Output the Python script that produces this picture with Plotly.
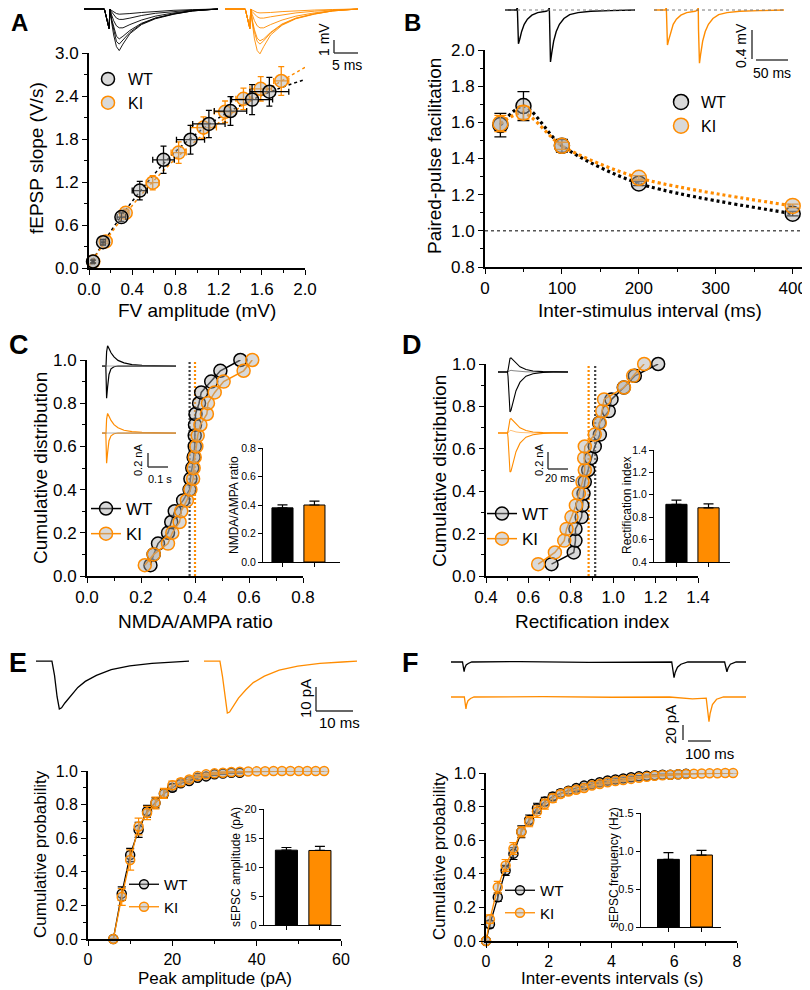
import plotly.graph_objects as go

# ---------------- data ----------------
# A: input/output (fEPSP slope vs fibre volley)
a_wt_fv = [0.037, 0.13, 0.30, 0.47, 0.69, 0.94, 1.11, 1.31, 1.51, 1.67]
a_wt_slope = [0.09, 0.36, 0.71, 1.08, 1.51, 1.79, 2.01, 2.19, 2.35, 2.46]
a_wt_fv_err = [0.01, 0.02, 0.04, 0.07, 0.10, 0.13, 0.15, 0.15, 0.19, 0.18]
a_wt_slope_err = [0.02, 0.04, 0.06, 0.13, 0.19, 0.20, 0.19, 0.20, 0.21, 0.20]
a_ki_fv = [0.04, 0.155, 0.34, 0.59, 0.83, 1.06, 1.26, 1.43, 1.59, 1.78]
a_ki_slope = [0.09, 0.37, 0.77, 1.19, 1.61, 1.96, 2.18, 2.36, 2.50, 2.61]
a_ki_fv_err = [0.01, 0.02, 0.03, 0.06, 0.07, 0.12, 0.10, 0.07, 0.10, 0.07]
a_ki_slope_err = [0.02, 0.03, 0.05, 0.10, 0.15, 0.15, 0.15, 0.15, 0.17, 0.20]
a_fit_fv = [0, 0.25, 0.5, 0.75, 1.0, 1.25, 1.5, 1.75, 2.0]
a_wt_fit = [0.03, 0.62, 1.12, 1.55, 1.88, 2.14, 2.34, 2.50, 2.63]
a_ki_fit = [0.03, 0.58, 1.05, 1.45, 1.79, 2.08, 2.35, 2.58, 2.80]

# A example sweeps (ms, mV)
a_trace_t = [-5.4, -1.0, 0.0, 0.2, 0.5, 1.0, 1.6, 2.2, 3.0, 4.5, 7.0, 10.0, 14.0, 18.0, 23.5]
a_wt_sweeps = [
    [0, 0, -1.5, 0, -0.9, -2.0, -2.9, -3.2, -2.7, -1.9, -1.2, -0.75, -0.4, -0.15, 0],
    [0, 0, -1.5, 0, -0.8, -1.7, -2.5, -2.7, -2.4, -1.8, -1.15, -0.7, -0.38, -0.15, 0],
    [0, 0, -1.5, 0, -0.7, -1.4, -2.1, -2.3, -2.1, -1.65, -1.1, -0.7, -0.36, -0.14, 0],
    [0, 0, -1.5, 0, -0.4, -0.9, -1.3, -1.45, -1.45, -1.2, -0.85, -0.55, -0.3, -0.12, 0],
    [0, 0, -1.5, 0, -0.2, -0.45, -0.7, -0.8, -0.8, -0.7, -0.5, -0.33, -0.18, -0.08, 0],
    [0, 0, -1.5, 0, -0.1, -0.2, -0.35, -0.4, -0.4, -0.35, -0.27, -0.18, -0.1, -0.05, 0],
]
a_ki_sweeps = [
    [0, 0, -1.5, 0, -1.0, -2.3, -3.2, -3.45, -2.9, -2.0, -1.25, -0.75, -0.4, -0.15, 0],
    [0, 0, -1.5, 0, -0.9, -1.8, -2.5, -2.7, -2.45, -1.85, -1.2, -0.72, -0.38, -0.15, 0],
    [0, 0, -1.5, 0, -0.8, -1.6, -2.25, -2.45, -2.3, -1.8, -1.15, -0.7, -0.37, -0.14, 0],
    [0, 0, -1.5, 0, -0.4, -0.9, -1.3, -1.45, -1.45, -1.2, -0.85, -0.55, -0.3, -0.12, 0],
    [0, 0, -1.5, 0, -0.2, -0.4, -0.6, -0.7, -0.7, -0.6, -0.45, -0.3, -0.17, -0.07, 0],
    [0, 0, -1.5, 0, -0.08, -0.18, -0.27, -0.3, -0.3, -0.27, -0.2, -0.14, -0.08, -0.04, 0],
]

# B: paired-pulse facilitation
b_isi = [20, 50, 100, 200, 400]
b_wt = [1.585, 1.69, 1.47, 1.262, 1.095]
b_wt_err = [0.065, 0.08, 0.035, 0.012, 0.012]
b_ki = [1.594, 1.653, 1.47, 1.293, 1.138]
b_ki_err = [0.045, 0.035, 0.02, 0.012, 0.01]
b_trace_t = [-19, -0.5, 0, 0.5, 2, 4, 7, 11, 16, 23, 32, 45, 49.5, 50, 50.5, 52, 54, 57, 61, 66,
             73, 82, 95, 115, 145, 184]
b_wt_sweep = [0, 0, 0.12, -0.2, -0.52, -0.45, -0.33, -0.22, -0.14, -0.08, -0.04, -0.02, 0, 0.12,
              -0.3, -0.8, -0.66, -0.48, -0.33, -0.22, -0.13, -0.07, -0.04, -0.02, -0.01, 0]
b_ki_sweep = [0, 0, 0.12, -0.2, -0.54, -0.46, -0.34, -0.22, -0.14, -0.08, -0.04, -0.02, 0, 0.12,
              -0.3, -0.82, -0.67, -0.48, -0.33, -0.22, -0.13, -0.07, -0.04, -0.02, -0.01, 0]

# C: NMDA/AMPA ratio cumulative distribution
c_cum = [0.05, 0.10, 0.15, 0.20, 0.25, 0.30, 0.35, 0.40, 0.45, 0.50,
         0.55, 0.60, 0.65, 0.70, 0.75, 0.80, 0.85, 0.90, 0.95, 1.00]
c_wt_ratio = [0.235, 0.247, 0.263, 0.30, 0.312, 0.325, 0.356, 0.38, 0.383, 0.39,
              0.395, 0.399, 0.399, 0.40, 0.402, 0.415, 0.423, 0.46, 0.494, 0.568]
c_ki_ratio = [0.214, 0.247, 0.30, 0.316, 0.343, 0.349, 0.37, 0.383, 0.393, 0.395,
              0.399, 0.405, 0.41, 0.42, 0.444, 0.448, 0.473, 0.506, 0.58, 0.612]
c_bar_mean = [0.38, 0.40]
c_bar_err = [0.021, 0.027]
c_trace_t = [-20, -1, 0, 3, 8, 15, 25, 40, 60, 90, 130, 180, 250, 350]
c_wt_nmda = [0, 0, 0, 0.2, 0.29, 0.25, 0.19, 0.13, 0.08, 0.045, 0.02, 0.01, 0.005, 0]
c_wt_ampa = [0, 0, -0.1, -0.46, -0.3, -0.12, -0.04, -0.01, 0, 0, 0, 0, 0, 0]
c_ki_nmda = [0, 0, 0, 0.2, 0.28, 0.24, 0.18, 0.12, 0.075, 0.04, 0.02, 0.01, 0.005, 0]
c_ki_ampa = [0, 0, -0.1, -0.43, -0.28, -0.11, -0.04, -0.01, 0, 0, 0, 0, 0, 0]

# D: rectification index cumulative distribution
d_cum = [0.056, 0.111, 0.167, 0.222, 0.278, 0.333, 0.389, 0.444, 0.5,
         0.556, 0.611, 0.667, 0.722, 0.778, 0.833, 0.889, 0.944, 1.0]
d_wt_ri = [0.709, 0.814, 0.822, 0.822, 0.851, 0.854, 0.86, 0.866, 0.882,
           0.895, 0.913, 0.937, 0.934, 0.979, 0.992, 1.05, 1.102, 1.212]
d_ki_ri = [0.646, 0.725, 0.769, 0.78, 0.803, 0.824, 0.838, 0.855, 0.866,
           0.863, 0.866, 0.913, 0.937, 0.948, 0.957, 1.051, 1.094, 1.146]
d_bar_mean = [0.915, 0.884]
d_bar_err = [0.038, 0.035]
d_trace_t = [-10, -0.5, 0, 1, 2, 3, 5, 8, 12, 18, 25, 35, 45, 60]
d_wt_pos = [0, 0, 0.02, 0.1, 0.16, 0.165, 0.14, 0.1, 0.06, 0.03, 0.012, 0.004, 0.001, 0]
d_wt_neg = [0, 0, -0.05, -0.3, -0.47, -0.45, -0.35, -0.22, -0.12, -0.05, -0.02, -0.005, 0, 0]
d_wt_zero = [0, 0, 0, 0.01, 0.02, 0.02, 0.015, 0.01, 0.005, 0.002, 0, 0, 0, 0]
d_ki_pos = [0, 0, 0.02, 0.1, 0.16, 0.17, 0.145, 0.1, 0.06, 0.03, 0.012, 0.004, 0.001, 0]
d_ki_neg = [0, 0, -0.05, -0.3, -0.46, -0.45, -0.35, -0.22, -0.12, -0.05, -0.02, -0.005, 0, 0]
d_ki_zero = [0, 0, 0, 0.015, 0.03, 0.03, 0.02, 0.012, 0.006, 0.002, 0, 0, 0, 0]

# E: sEPSC amplitude
e_amp_wt = [6, 8, 10, 12, 14, 16, 18, 20, 22, 24, 26, 28, 30, 32, 34, 36]
e_cum_wt = [0, 0.27, 0.50, 0.65, 0.76, 0.81, 0.865, 0.90, 0.927, 0.94, 0.96, 0.968, 0.98, 0.985, 0.99, 0.99]
e_err_wt = [0, 0.04, 0.04, 0.045, 0.035, 0.03, 0.025, 0.02, 0.015, 0.01, 0.01, 0.008, 0.006, 0.005, 0.004, 0.003]
e_amp_ki = [6, 8, 10, 12, 14, 16, 18, 20, 22, 24, 26, 28, 30, 32, 34, 36, 38, 40, 42, 44, 46, 48, 50, 52, 54, 56]
e_cum_ki = [0, 0.25, 0.47, 0.67, 0.75, 0.81, 0.867, 0.915, 0.933, 0.95, 0.97, 0.98, 0.986, 0.99, 0.994,
            0.996, 0.997, 0.998, 0.999, 1.0, 1.0, 1.0, 1.0, 1.0, 1.0, 1.0]
e_err_ki = [0, 0.05, 0.06, 0.05, 0.04, 0.035, 0.03, 0.025, 0.02, 0.015, 0.01, 0.008, 0.006, 0.005, 0.004,
            0.003, 0.002, 0.002, 0.001, 0, 0, 0, 0, 0, 0, 0]
e_bar_mean = [12.9, 12.85]
e_bar_err = [0.46, 0.7]
e_trace_t = [-4.3, -0.3, 0, 0.7, 1.4, 2.0, 2.6, 3.5, 5, 7, 9, 12, 16, 21, 27, 33, 37]
e_wt_sweep = [0, 0, 0, -6, -15, -20, -19.5, -17.5, -14.5, -11, -8.5, -6, -3.6, -2, -1, -0.4, 0]
e_ki_sweep = [0, 0, 0, -6.5, -16, -21.7, -21.3, -19, -15.5, -12, -9, -6.3, -3.8, -2.1, -1, -0.4, 0]

# F: inter-event intervals
f_iei_wt = [0, 0.125, 0.375, 0.625, 0.875, 1.125, 1.375, 1.625, 1.875, 2.125, 2.375, 2.625, 2.875, 3.125,
            3.375, 3.625, 3.875, 4.125, 4.375, 4.625, 4.875, 5.125, 5.375, 5.625, 5.875, 6.125, 6.375]
f_cum_wt = [0, 0.10, 0.26, 0.42, 0.52, 0.65, 0.72, 0.79, 0.83, 0.86, 0.88, 0.895, 0.91, 0.925,
            0.935, 0.945, 0.955, 0.962, 0.968, 0.975, 0.98, 0.983, 0.986, 0.99, 0.99, 0.993, 0.995]
f_err_wt = [0, 0.02, 0.025, 0.03, 0.035, 0.035, 0.03, 0.03, 0.025, 0.02, 0.02, 0.018, 0.016, 0.014,
            0.012, 0.01, 0.01, 0.008, 0.007, 0.006, 0.005, 0.004, 0.004, 0.003, 0.003, 0.002, 0.002]
f_iei_ki = [0, 0.125, 0.375, 0.625, 0.875, 1.125, 1.375, 1.625, 1.875, 2.125, 2.375, 2.625, 2.875, 3.125,
            3.375, 3.625, 3.875, 4.125, 4.375, 4.625, 4.875, 5.125, 5.375, 5.625, 5.875, 6.125, 6.375,
            6.625, 6.875, 7.125, 7.375, 7.625, 7.875]
f_cum_ki = [0, 0.13, 0.32, 0.45, 0.55, 0.65, 0.71, 0.77, 0.815, 0.85, 0.875, 0.89, 0.90, 0.91,
            0.925, 0.935, 0.945, 0.952, 0.958, 0.965, 0.972, 0.978, 0.983, 0.987, 0.99, 0.992, 0.994,
            0.996, 0.997, 0.998, 0.999, 1.0, 1.0]
f_err_ki = [0, 0.025, 0.035, 0.035, 0.035, 0.03, 0.03, 0.035, 0.03, 0.025, 0.02, 0.02, 0.018, 0.016,
            0.014, 0.012, 0.01, 0.009, 0.008, 0.007, 0.006, 0.005, 0.004, 0.004, 0.003, 0.003, 0.002,
            0.002, 0.001, 0.001, 0.001, 0, 0]
f_bar_mean = [0.89, 0.947]
f_bar_err = [0.088, 0.06]
f_wt_t = [0, 50, 57, 60, 66, 75, 90, 300, 600, 900, 960, 970, 975, 985, 1000, 1030,
          1190, 1200, 1205, 1215, 1240, 1283]
f_wt_sweep = [0, 0, -13, -8, -4, -2, 0, 0.5, -0.5, 0, 0, -21, -14, -7, -3, 0, 0, -13, -8, -3, 0, 0]
f_ki_t = [0, 58, 65, 68, 74, 85, 100, 400, 700, 950, 1050, 1110, 1122, 1127, 1137, 1155, 1185, 1283]
f_ki_sweep = [0, 0, -16, -10, -5, -2, 0, 0.5, -0.3, 0, -2.5, -1.5, -33, -22, -10, -3, 0, 0]

# ---------------- styling / helpers ----------------
# the page body adds an 8 px margin, so the figure is 8 px smaller and every
# window position below is shifted back by that much
PAD = 8
W, H = 810 - PAD, 990 - PAD
FONT = 'Liberation Sans, Arial, Helvetica, sans-serif'
BLACK = '#000000'
ORANGE = '#FF8C00'
FILL = 'rgba(170,170,170,0.45)'

fig = go.Figure()
axes = {}
shapes = []
annotations = []
count = [0]


def px_x(p):
    return min(max((p - PAD) / W, 0), 1)


def px_y(p):
    return min(max(1 - (p - PAD) / H, 0), 1)


def add_axes(box, xopt, yopt):
    count[0] += 1
    k = '' if count[0] == 1 else str(count[0])
    x0, x1, y0, y1 = box
    axes['xaxis' + k] = dict(domain=[px_x(x0), px_x(x1)], anchor='y' + k, **xopt)
    axes['yaxis' + k] = dict(domain=[px_y(y1), px_y(y0)], anchor='x' + k, **yopt)
    return dict(xaxis='x' + k, yaxis='y' + k)


def ticked(rng, dtick=None, minor=None, fmt='', size=16, lw=1.8, tlen=5, labels=True, tickvals=None):
    d = dict(range=rng, showline=True, linecolor=BLACK, linewidth=lw, ticks='outside',
             ticklen=tlen, tickwidth=lw * 0.8, tickcolor=BLACK, showgrid=False, zeroline=False,
             fixedrange=True, automargin=False, tickfont=dict(size=size, color=BLACK, family=FONT),
             showticklabels=labels, tickformat=fmt)
    if tickvals is not None:
        d['tickvals'] = tickvals
    else:
        d['dtick'] = dtick
        d['tick0'] = 0
    if minor:
        d['minor'] = dict(dtick=minor, tick0=0, ticks='outside', ticklen=tlen * 0.6,
                          tickwidth=lw * 0.8, tickcolor=BLACK, showgrid=False)
    return d


def hidden(rng):
    return dict(range=rng, visible=False, fixedrange=True, automargin=False)


def label(text, x, y, size, angle=0, bold=False, color=BLACK):
    if bold:
        text = '<b>' + text + '</b>'
    annotations.append(dict(text=text, x=px_x(x), y=px_y(y), xref='paper', yref='paper',
                            showarrow=False, textangle=angle, xanchor='center', yanchor='middle',
                            font=dict(size=size, color=color, family=FONT)))


def seg(x0, y0, x1, y1, color='#333333', width=1.4):
    shapes.append(dict(type='line', xref='paper', yref='paper', x0=px_x(x0), y0=px_y(y0),
                       x1=px_x(x1), y1=px_y(y1), line=dict(color=color, width=width)))


def legend_box(left, top, size):
    return dict(x=px_x(left), y=px_y(top), xref='paper', yref='paper', xanchor='left', yanchor='top',
                bgcolor='rgba(0,0,0,0)', borderwidth=0, font=dict(size=size, color=BLACK, family=FONT),
                itemclick=False, itemdoubleclick=False, traceorder='normal')


def circle(color, size):
    return dict(symbol='circle', size=size, color=FILL, line=dict(color=color, width=1.5))


def err(arr, color, width=3, thick=1.3):
    return dict(type='data', array=arr, color=color, thickness=thick, width=width, visible=True)


def sweep(ax, t, v, color, width=1.0):
    fig.add_trace(go.Scatter(x=t, y=v, mode='lines', line=dict(color=color, width=width),
                             showlegend=False, hoverinfo='skip', **ax))


def inset(box, xr, yr, dtick, fmt, means, errs, size=10.5):
    ax = add_axes(box,
                  ticked(xr, labels=False, tickvals=[0, 1], lw=1.3, tlen=4, size=size),
                  ticked(yr, dtick, None, fmt, size=size, lw=1.3, tlen=4))
    fig.add_trace(go.Bar(x=[0, 1], y=means, width=0.66,
                         marker=dict(color=[BLACK, ORANGE], line=dict(color=BLACK, width=1)),
                         error_y=dict(type='data', array=errs, arrayminus=[0, 0], symmetric=False,
                                      color=BLACK, thickness=1.2, width=5),
                         showlegend=False, hoverinfo='skip', **ax))


# ---------------- A ----------------
ax = add_axes((89, 305, 53, 268), ticked([0, 2.0], 0.4, 0.2, '.1f', size=17), ticked([0, 3.0], 0.6, 0.3, '.1f', size=17))
fig.add_trace(go.Scatter(x=a_fit_fv, y=a_wt_fit, mode='lines', showlegend=False,
                         line=dict(color=BLACK, width=1.5, dash='dot', shape='spline'), **ax))
fig.add_trace(go.Scatter(x=a_fit_fv, y=a_ki_fit, mode='lines', showlegend=False,
                         line=dict(color=ORANGE, width=1.5, dash='dot', shape='spline'), **ax))
fig.add_trace(go.Scatter(x=a_ki_fv, y=a_ki_slope, mode='markers', name='KI', legend='legend', legendrank=2,
                         marker=circle(ORANGE, 13), error_x=err(a_ki_fv_err, ORANGE),
                         error_y=err(a_ki_slope_err, ORANGE), cliponaxis=False, **ax))
fig.add_trace(go.Scatter(x=a_wt_fv, y=a_wt_slope, mode='markers', name='WT', legend='legend', legendrank=1,
                         marker=circle(BLACK, 13), error_x=err(a_wt_fv_err, BLACK),
                         error_y=err(a_wt_slope_err, BLACK), cliponaxis=False, **ax))
for box, sweeps, col in [((84, 218, 8, 55), a_wt_sweeps, BLACK), ((225, 358, 8, 55), a_ki_sweeps, ORANGE)]:
    tax = add_axes(box, hidden([-5.4, 23.5]), hidden([-3.54, 0.077]))
    for s in sweeps:
        sweep(tax, a_trace_t, s, col, 0.9)
seg(334, 40, 334, 53)
seg(334, 53, 358, 53)
label('1 mV', 324, 40, 14, -90)
label('5 ms', 347, 65, 14)

# ---------------- B ----------------
ax = add_axes((485, 805, 50, 267), ticked([0, 416], 100, 50, size=17), ticked([0.8, 2.0], 0.2, 0.1, '.1f', size=17))
shapes.append(dict(type='line', xref='x%s domain' % ax['xaxis'][1:], yref=ax['yaxis'], x0=0, x1=1, y0=1.0,
                   y1=1.0, line=dict(color='#555555', width=1.5, dash='dot')))
fig.add_trace(go.Scatter(x=b_isi, y=b_wt, mode='lines', showlegend=False,
                         line=dict(color=BLACK, width=3.2, dash='3px,3px', shape='spline', smoothing=0.8), **ax))
fig.add_trace(go.Scatter(x=b_isi, y=b_ki, mode='lines', showlegend=False,
                         line=dict(color=ORANGE, width=3.2, dash='3px,3px', shape='spline', smoothing=0.8), **ax))
fig.add_trace(go.Scatter(x=b_isi, y=b_wt, mode='markers', name='WT', legend='legend2',
                         marker=circle(BLACK, 15), error_y=err(b_wt_err, BLACK, 6), cliponaxis=False, **ax))
fig.add_trace(go.Scatter(x=b_isi, y=b_ki, mode='markers', name='KI', legend='legend2',
                         marker=circle(ORANGE, 15), error_y=err(b_ki_err, ORANGE, 6), cliponaxis=False, **ax))
for box, s, col in [((505, 635, 8, 66), b_wt_sweep, BLACK), ((654, 784, 8, 66), b_ki_sweep, ORANGE)]:
    tax = add_axes(box, hidden([-19, 184]), hidden([-0.862, 0.031]))
    shapes.append(dict(type='line', xref='x%s domain' % tax['xaxis'][1:], yref=tax['yaxis'], x0=0, x1=1,
                       y0=0, y1=0, line=dict(color='#777777', width=1, dash='dot')))
    sweep(tax, b_trace_t, s, col, 1.4)
seg(752, 30, 752, 59)
seg(756, 60, 788, 60)
label('0.4 mV', 741, 46, 14, -90)
label('50 ms', 772, 73, 14)

# ---------------- C ----------------
ax = add_axes((87, 303, 360, 576), ticked([0, 0.8], 0.2, 0.1, '.1f', size=17), ticked([0, 1.0], 0.2, 0.1, '.1f', size=17))
for m, col in zip(c_bar_mean, ['#444444', ORANGE]):
    fig.add_trace(go.Scatter(x=[m, m], y=[0, 1.0], mode='lines', showlegend=False, hoverinfo='skip',
                             line=dict(color=col, width=2.2, dash='2px,2px'), **ax))
fig.add_trace(go.Scatter(x=c_wt_ratio, y=c_cum, mode='lines+markers', name='WT', legend='legend3',
                         line=dict(color=BLACK, width=1.5), marker=circle(BLACK, 13), cliponaxis=False, **ax))
fig.add_trace(go.Scatter(x=c_ki_ratio, y=c_cum, mode='lines+markers', name='KI', legend='legend3',
                         line=dict(color=ORANGE, width=1.5), marker=circle(ORANGE, 13), cliponaxis=False, **ax))
inset((263, 340, 448, 562), [-0.61, 1.8], [0, 0.8], 0.2, '.1f', c_bar_mean, c_bar_err)
for box, pos, neg, col in [((102, 176, 336, 406), c_wt_nmda, c_wt_ampa, BLACK),
                           ((102, 176, 403, 473), c_ki_nmda, c_ki_ampa, ORANGE)]:
    tax = add_axes(box, hidden([-20, 350]), hidden([-0.571, 0.429]))
    shapes.append(dict(type='line', xref='x%s domain' % tax['xaxis'][1:], yref=tax['yaxis'], x0=0, x1=1,
                       y0=0, y1=0, line=dict(color='#999999', width=0.8)))
    sweep(tax, c_trace_t, pos, col, 1.2)
    sweep(tax, c_trace_t, neg, col, 1.2)
seg(148, 453, 148, 467)
seg(148, 467, 168, 467)
label('0.2 nA', 138, 460, 11, -90)
label('0.1 s', 160, 479, 11)

# ---------------- D ----------------
ax = add_axes((486, 698, 364, 576), ticked([0.4, 1.4], 0.2, 0.1, '.1f', size=17), ticked([0, 1.0], 0.2, 0.1, '.1f', size=17))
for m, col in zip(d_bar_mean, ['#444444', ORANGE]):
    fig.add_trace(go.Scatter(x=[m, m], y=[0, 1.0], mode='lines', showlegend=False, hoverinfo='skip',
                             line=dict(color=col, width=2.2, dash='2px,2px'), **ax))
fig.add_trace(go.Scatter(x=d_wt_ri, y=d_cum, mode='lines+markers', name='WT', legend='legend4',
                         line=dict(color=BLACK, width=1.5), marker=circle(BLACK, 13), cliponaxis=False, **ax))
fig.add_trace(go.Scatter(x=d_ki_ri, y=d_cum, mode='lines+markers', name='KI', legend='legend4',
                         line=dict(color=ORANGE, width=1.5), marker=circle(ORANGE, 13), cliponaxis=False, **ax))
inset((654, 730, 450, 562), [-0.7, 1.67], [0.4, 1.4], 0.2, '.1f', d_bar_mean, d_bar_err)
for box, pos, neg, zero, col, faint in [((498, 568, 352, 416), d_wt_pos, d_wt_neg, d_wt_zero, BLACK, '#888888'),
                                        ((498, 568, 413, 477), d_ki_pos, d_ki_neg, d_ki_zero, ORANGE, '#FFC27A')]:
    tax = add_axes(box, hidden([-10, 60]), hidden([-0.518, 0.235]))
    sweep(tax, d_trace_t, zero, faint, 1.0)
    sweep(tax, d_trace_t, pos, col, 1.1)
    sweep(tax, d_trace_t, neg, col, 1.1)
seg(548, 452, 548, 469)
seg(548, 469, 568, 469)
label('0.2 nA', 539, 460, 11, -90)
label('20 ms', 560, 478, 11)

# ---------------- E ----------------
ax = add_axes((88, 341, 771, 939), ticked([0, 60], 20, 10, size=16), ticked([0, 1.0], 0.2, 0.1, '.1f', size=16))
fig.add_trace(go.Scatter(x=e_amp_wt, y=e_cum_wt, mode='lines+markers', name='WT', legend='legend5',
                         line=dict(color=BLACK, width=1.3), marker=circle(BLACK, 9),
                         error_y=err(e_err_wt, BLACK, 4, 1.2), cliponaxis=False, **ax))
fig.add_trace(go.Scatter(x=e_amp_ki, y=e_cum_ki, mode='lines+markers', name='KI', legend='legend5',
                         line=dict(color=ORANGE, width=1.3), marker=circle(ORANGE, 9),
                         error_y=err(e_err_ki, ORANGE, 4, 1.2), cliponaxis=False, **ax))
inset((264, 341, 809, 925), [-0.67, 1.63], [0, 20], 5, '', e_bar_mean, e_bar_err, 11)
for box, s, col in [((36, 189, 650, 720), e_wt_sweep, BLACK), ((204, 357, 650, 720), e_ki_sweep, ORANGE)]:
    tax = add_axes(box, hidden([-4.3, 37]), hidden([-24.6, 4.6]))
    sweep(tax, e_trace_t, s, col, 1.3)
seg(316, 687, 316, 711)
seg(316, 711, 353, 711)
label('10 pA', 305, 699, 15, -90)
label('10 ms', 339, 722, 15)

# ---------------- F ----------------
ax = add_axes((486, 737, 773, 941), ticked([0, 8], 2, 1, size=16), ticked([0, 1.0], 0.2, 0.1, '.1f', size=16))
fig.add_trace(go.Scatter(x=f_iei_wt, y=f_cum_wt, mode='lines+markers', name='WT', legend='legend6',
                         line=dict(color=BLACK, width=1.3), marker=circle(BLACK, 9),
                         error_y=err(f_err_wt, BLACK, 4, 1.2), cliponaxis=False, **ax))
fig.add_trace(go.Scatter(x=f_iei_ki, y=f_cum_ki, mode='lines+markers', name='KI', legend='legend6',
                         line=dict(color=ORANGE, width=1.3), marker=circle(ORANGE, 9),
                         error_y=err(f_err_ki, ORANGE, 4, 1.2), cliponaxis=False, **ax))
inset((641, 721, 813, 927), [-0.83, 1.59], [0, 1.5], 0.5, '.1f', f_bar_mean, f_bar_err, 11)
for box, t, s, col, yr in [((451, 746, 650, 682), f_wt_t, f_wt_sweep, BLACK, [-26.7, 16]),
                           ((451, 746, 685, 730), f_ki_t, f_ki_sweep, ORANGE, [-44, 16])]:
    tax = add_axes(box, hidden([0, 1283]), hidden(yr))
    sweep(tax, t, s, col, 1.3)
seg(683, 725, 683, 740)
seg(688, 741, 711, 741)
label('20 pA', 670, 725, 15, -90)
label('100 ms', 709, 753, 15)

# ---------------- titles & letters ----------------
label('fEPSP slope (V/s)', 37, 158, 19, -90)
label('FV amplitude (mV)', 197, 310, 19)
label('Paired-pulse facilitation', 435, 156, 19, -90)
label('Inter-stimulus interval (ms)', 650, 310, 19)
label('Cumulative distribution', 40, 468, 19, -90)
label('NMDA/AMPA ratio', 195, 621, 19)
label('Cumulative distribution', 439, 471, 19, -90)
label('Rectification index', 592, 621, 19)
label('Cumulative probability', 40, 854, 17, -90)
label('Peak amplitude (pA)', 215, 978, 17)
label('Cumulative probability', 439, 856, 17, -90)
label('Inter-events intervals (s)', 612, 978, 17)
label('NMDA/AMPA ratio', 234, 505, 12, -90)
label('Rectification index', 627, 506, 12, -90)
label('sEPSC amplitude (pA)', 236, 867, 12, -90)
label('sEPSC frequency (Hz)', 614, 868, 12, -90)
for letter, x, y, size in [('A', 19, 23, 24), ('B', 412, 23, 24), ('C', 19, 345, 27),
                           ('D', 412, 345, 27), ('E', 18, 663, 27), ('F', 410, 663, 27)]:
    label(letter, x, y, size, bold=True)

fig.update_layout(
    template='none',
    width=W, height=H, autosize=False,
    margin=dict(l=0, r=0, t=0, b=0, pad=0, autoexpand=False),
    paper_bgcolor='white', plot_bgcolor='rgba(0,0,0,0)',
    font=dict(family=FONT, color=BLACK),
    hovermode=False, showlegend=True,
    shapes=shapes, annotations=annotations,
    legend=legend_box(88, 62, 16),
    legend2=legend_box(661, 85, 16),
    legend3=legend_box(86, 491, 17),
    legend4=legend_box(482, 496, 17),
    legend5=legend_box(124, 868, 15),
    legend6=legend_box(500, 874, 15),
    **axes,
)

fig.write_html("out.html")
